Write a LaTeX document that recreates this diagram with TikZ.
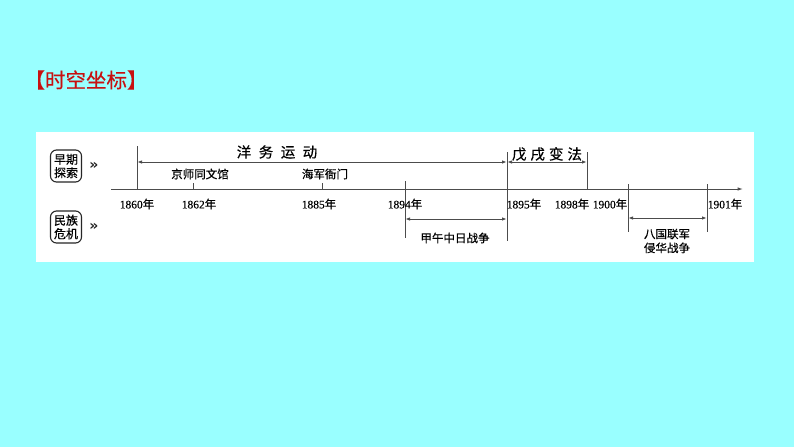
\documentclass[tikz,border=0pt]{standalone}
\usepackage{fontspec}
\setmainfont{Liberation Serif}
\newfontfamily\cjk[FakeBold=0.5]{Noto Sans CJK SC}
\newfontfamily\cjkhalf[RawFeature=+halt,FakeBold=0.3]{Noto Sans CJK SC}
\newfontfamily\yrfont[FakeBold=0.2]{Liberation Serif}
\newfontfamily\djv{DejaVu Sans}
\usetikzlibrary{arrows.meta,positioning}
\definecolor{bgcyan}{RGB}{153,255,255}
\definecolor{titlered}{RGB}{200,16,16}
\newcommand\nian{{\cjk 年}}

\begin{document}
\begin{tikzpicture}[x=1pt,y=-1pt,
  tl/.style={line width=1pt,draw=black!70},
  spanarrow/.style={tl,{Latex[length=5pt,width=3.4pt]}-{Latex[length=5pt,width=3.4pt]}},
  yr/.style={font=\yrfont\fontsize{11.5}{12}\selectfont,inner sep=0pt,text=black},
  ev/.style={font=\cjk\fontsize{11.5}{14}\selectfont,inner sep=0pt,text=black,align=center},
  period/.style={font=\cjk\fontsize{14.5}{16}\selectfont,inner sep=0pt,text=black},
  tag/.style={draw=black!85,rounded corners=6pt,line width=1.1pt,fill=white,
    font=\cjk\fontsize{12}{13.5}\selectfont,inner sep=0pt,align=center,
    minimum width=31pt,minimum height=32pt,text=black},
  chev/.style={font=\djv\bfseries\fontsize{14}{14}\selectfont,inner sep=0pt,text=black!85}]
% background and panel
\fill[bgcyan] (0,0) rectangle (794,447);
\fill[white] (36,132) rectangle (754,262);
\node[font=\cjkhalf\fontsize{20.5}{24}\selectfont,text=titlered,inner sep=0pt] (title) at (86,80) {【时空坐标】};
% row tags
\node[tag] (early) at (66,166) {早期\\探索};
\node[tag] (crisis) at (66,227) {民族\\危机};
\node[chev,right=7pt of early] (earlychev) {»};
\node[chev,right=7pt of crisis] (crisischev) {»};
% axis
\coordinate (a0) at (111,189);
\coordinate (a1) at (743,189);
\draw[tl,-{Latex[length=5.5pt,width=3.6pt]}] (a0) -- (a1);
\coordinate (y1860) at (137,189);
\coordinate (y1862) at (193,189);
\coordinate (y1885) at (322,189);
\coordinate (y1894) at (405,189);
\coordinate (y1895) at (507,189);
\coordinate (y1898) at (587,189);
\coordinate (y1900) at (628,189);
\coordinate (y1901) at (707,189);
% marks on the axis
\draw[tl] (y1860) -- ++(0,-43);
\draw[tl] (y1862) -- ++(0,-6);
\draw[tl] (y1885) -- ++(0,-6);
\draw[tl] (y1894) ++(0,-8) -- ++(0,57);
\draw[tl] (y1895) ++(0,-37) -- ++(0,89);
\draw[tl] (y1898) -- ++(0,-37);
\draw[tl] (y1900) ++(0,-5) -- ++(0,48);
\draw[tl] (y1901) ++(0,-5) -- ++(0,48);
% spans
\draw[spanarrow] (y1860) ++(0,-27) coordinate (ywA) -- (y1895 |- ywA) coordinate (ywB);
\draw[spanarrow] (ywB) -- (y1898 |- ywB);
\draw[spanarrow] (y1894) ++(0,30) coordinate (jwA) -- (y1895 |- jwA);
\draw[spanarrow] (y1900) ++(0,29) coordinate (bgA) -- (y1901 |- bgA);
% labels
\node[period] (yangwu) at (277,152) {洋\hspace{7.5pt}务\hspace{7.5pt}运\hspace{7.5pt}动};
\node[period] (wuxu) at (547,154) {戊\hspace{4pt}戌\hspace{4pt}变\hspace{4pt}法};
\node[ev] (tongwen) at (200,174) {京师同文馆};
\node[ev] (haijun) at (325,174) {海军衙门};
\node[ev] (jiawu) at (455,238) {甲午中日战争};
\node[ev] (baguo) at (667,241) {八国联军\\侵华战争};
\node[yr] (l1860) at (137,204) {1860\nian};
\node[yr] (l1862) at (199,204) {1862\nian};
\node[yr] (l1885) at (319,204) {1885\nian};
\node[yr] (l1894) at (405,204) {1894\nian};
\node[yr] (l1895) at (524,204) {1895\nian};
\node[yr] (l1898) at (572,204) {1898\nian};
\node[yr] (l1900) at (610,204) {1900\nian};
\node[yr] (l1901) at (725,204) {1901\nian};
\end{tikzpicture}
\end{document}
